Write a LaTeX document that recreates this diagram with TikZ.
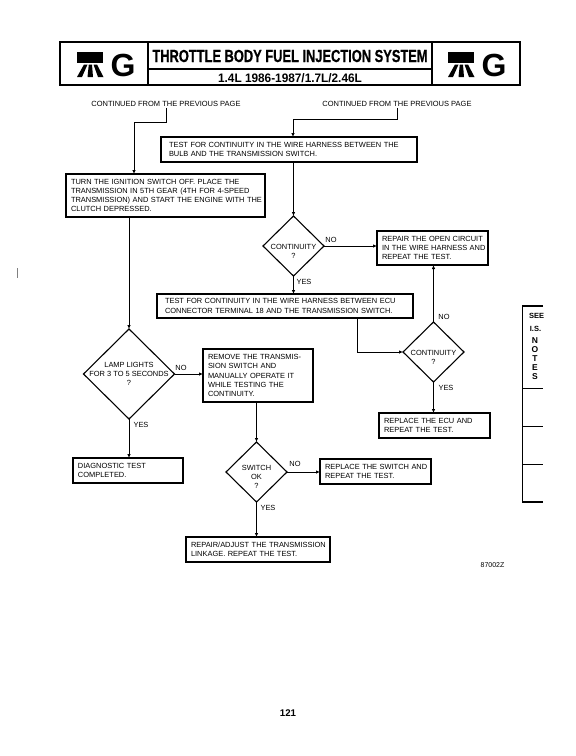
\documentclass[tikz,border=0pt]{standalone}
\usepackage{fontspec}
\setmainfont{Liberation Sans}
\newfontfamily\headfont[FakeStretch=0.735,FakeBold=0.5]{Liberation Sans Bold}
\newfontfamily\subfont[FakeStretch=0.96]{Liberation Sans Bold}
\usetikzlibrary{shapes.geometric, arrows.meta}

\tikzset{
    stepbox/.style n args={2}{shape=rectangle, draw, line width=1.1pt, outer sep=0pt, inner xsep=1pt, inner ysep=0pt,
        text width=#1pt-2pt, minimum height=#2pt, align=left, font=\fontsize{7.45}{9.2}\selectfont,
        execute at begin node={\leftskip=4pt}},
    deepbox/.style={execute at begin node={\leftskip=7pt}},
    checkdiamond/.style n args={2}{shape=diamond, draw, line width=1.1pt, outer sep=0pt, inner sep=0pt,
        minimum width=#1pt, minimum height=#2pt},
    inside/.style={align=center, font=\fontsize{7.45}{9.2}\selectfont},
    answer/.style={inner sep=0pt, font=\fontsize{7.45}{8}\selectfont},
    flow/.style={line width=0.8pt, ->},
    frameline/.style={line width=1.1pt},
}

\begin{document}
\begin{tikzpicture}[x=1pt, y=-1pt, >={Latex[length=4pt, width=3.5pt]}]
    \useasboundingbox (0, 0) rectangle (576, 756);

    % header
    \node (hdr) at (290, 63.5) [draw, frameline, outer sep=0pt, inner sep=0pt, minimum width=460pt, minimum height=43pt] {};
    \coordinate (divl) at (148, 42);
    \coordinate (divr) at (432, 42);
    \coordinate (divm) at (148, 69);
    \draw[frameline] (divl) -- (divl |- hdr.south);
    \draw[frameline] (divr) -- (divr |- hdr.south);
    \draw[frameline] (divm) -- (divm -| divr);
    \node (title) at (290, 56) [inner sep=0pt, font=\headfont\fontsize{17.5}{18}\selectfont] {THROTTLE BODY FUEL INJECTION SYSTEM};
    \node (engines) at (290, 78) [inner sep=0pt, font=\subfont\fontsize{12.3}{13}\selectfont] {1.4L 1986-1987/1.7L/2.46L};
    \foreach \dx/\gname in {0/gleft, 371/gright} {
        \fill (77+\dx, 52) rectangle (103+\dx, 63);
        \fill (84+\dx, 64.5) -- (87.5+\dx, 64.5) -- (82+\dx, 77) -- (77+\dx, 77) -- cycle;
        \fill (88.8+\dx, 64.5) -- (92+\dx, 64.5) -- (93+\dx, 77) -- (87.5+\dx, 77) -- cycle;
        \fill (93.5+\dx, 64.5) -- (97+\dx, 64.5) -- (103.5+\dx, 77) -- (98+\dx, 77) -- cycle;
        \node (\gname) at (123+\dx, 65) [inner sep=0pt, font=\bfseries\fontsize{32}{32}\selectfont] {G};
    }

    % entries
    \node (contl) at (166, 104) [inner sep=1pt, font=\fontsize{7.5}{8}\selectfont] {CONTINUED FROM THE PREVIOUS PAGE};
    \node (contr) at (397, 104) [inner sep=1pt, font=\fontsize{7.5}{8}\selectfont] {CONTINUED FROM THE PREVIOUS PAGE};

    % boxes
    \node (bulb) at (289, 149.5) [stepbox={256}{25}, deepbox] {TEST FOR CONTINUITY IN THE WIRE HARNESS BETWEEN THE\\BULB AND THE TRANSMISSION SWITCH.};
    \node (ignition) at (165.5, 195.5) [stepbox={199}{43}] {TURN THE IGNITION SWITCH OFF. PLACE THE\\TRANSMISSION IN 5TH GEAR (4TH FOR 4-SPEED\\TRANSMISSION) AND START THE ENGINE WITH THE\\CLUTCH DEPRESSED.};
    \node (repair) at (432.5, 248) [stepbox={111}{34}] {REPAIR THE OPEN CIRCUIT\\IN THE WIRE HARNESS AND\\REPEAT THE TEST.};
    \node (ecu) at (285, 306) [stepbox={256}{24}, deepbox] {TEST FOR CONTINUITY IN THE WIRE HARNESS BETWEEN ECU\\CONNECTOR TERMINAL 18 AND THE TRANSMISSION SWITCH.};
    \node (remove) at (258, 375.5) [stepbox={110}{53}] {REMOVE THE TRANSMIS-\\SION SWITCH AND\\MANUALLY OPERATE IT\\WHILE TESTING THE\\CONTINUITY.};
    \node (replecu) at (434.5, 425.5) [stepbox={111}{25}] {REPLACE THE ECU AND\\REPEAT THE TEST.};
    \node (diag) at (128, 470.5) [stepbox={110}{25}] {DIAGNOSTIC TEST\\COMPLETED.};
    \node (replsw) at (375.5, 471.5) [stepbox={111}{25}] {REPLACE THE SWITCH AND\\REPEAT THE TEST.};
    \node (linkage) at (258, 549.5) [stepbox={144}{25}] {REPAIR/ADJUST THE TRANSMISSION\\LINKAGE. REPEAT THE TEST.};

    % checks
    \node (cont1) at (293.5, 246) [checkdiamond={61}{60}, label={[inside, yshift=-5pt]center:CONTINUITY\\?}] {};
    \node (cont2) at (433.5, 352) [checkdiamond={61}{60}, label={[inside, yshift=-5pt]center:CONTINUITY\\?}] {};
    \node (lamp) at (129, 374) [checkdiamond={91}{90}, label={[inside]center:LAMP LIGHTS\\FOR 3 TO 5 SECONDS\\?}] {};
    \node (swok) at (256.5, 472) [checkdiamond={61}{60}, label={[inside, yshift=-5pt]center:SWITCH\\OK\\?}] {};

    % connectors
    \coordinate (jogl) at (134, 122);
    \coordinate (jogr) at (293, 119);
    \coordinate (igntop) at (134, 174);
    \coordinate (ecuout) at (357, 318);
    \draw[flow] (contl.south) |- (jogl) -- (igntop);
    \draw[flow] (contr.south) |- (jogr) -- (jogr |- bulb.north);
    \draw[flow] (cont1.north |- bulb.south) -- (cont1.north);
    \draw[flow] (lamp.north |- ignition.south) -- (lamp.north);
    \draw[flow] (cont1.east) -- (cont1.east -| repair.west);
    \draw[flow] (cont1.south) -- (cont1.south |- ecu.north);
    \draw[flow] (ecuout) |- (cont2.west);
    \draw[flow] (cont2.north) -- (cont2.north |- repair.south);
    \draw[flow] (cont2.south) -- (cont2.south |- replecu.north);
    \draw[flow] (lamp.east) -- (lamp.east -| remove.west);
    \draw[flow] (lamp.south) -- (lamp.south |- diag.north);
    \draw[flow] (swok.north |- remove.south) -- (swok.north);
    \draw[flow] (swok.east) -- (swok.east -| replsw.west);
    \draw[flow] (swok.south) -- (swok.south |- linkage.north);

    % answers
    \node (no1) at (331, 240) [answer] {NO};
    \node (yes1) at (304, 282) [answer] {YES};
    \node (no2) at (444, 317) [answer] {NO};
    \node (yes2) at (446, 388) [answer] {YES};
    \node (no3) at (181, 368) [answer] {NO};
    \node (yes3) at (141, 425) [answer] {YES};
    \node (no4) at (295, 464) [answer] {NO};
    \node (yes4) at (268, 508) [answer] {YES};

    % side panel
    \coordinate (tab) at (522.5, 306);
    \coordinate (tabend) at (522.5, 502);
    \draw[frameline] (543, 306) -- (tab) -- (tabend) -- (543, 502);
    \draw[line width=0.8pt] (tab |- 0, 388) -- (543, 388);
    \draw[line width=0.8pt] (tab |- 0, 426) -- (543, 426);
    \draw[line width=0.8pt] (tab |- 0, 464) -- (543, 464);
    \begin{scope}
        \clip (520, 300) rectangle (543, 340);
        \node (see) at (536.5, 316) [inner sep=0pt, font=\bfseries\fontsize{7.5}{8}\selectfont] {SEE};
    \end{scope}
    \node (isn) at (535.5, 329) [inner sep=0pt, font=\bfseries\fontsize{7.5}{8}\selectfont] {I.S.};
    \node (notes) at (535, 359) [inner sep=0pt, align=center, font=\bfseries\fontsize{8.5}{9}\selectfont] {N\\O\\T\\E\\S};

    % page marks
    \node (code) at (492.5, 565) [inner sep=0pt, font=\fontsize{7}{8}\selectfont] {87002Z};
    \node (pageno) at (288, 713) [inner sep=0pt, font=\bfseries\fontsize{9.7}{10}\selectfont] {121};
    \draw[gray, line width=0.7pt] (17, 268) -- (17, 278);
\end{tikzpicture}
\end{document}
